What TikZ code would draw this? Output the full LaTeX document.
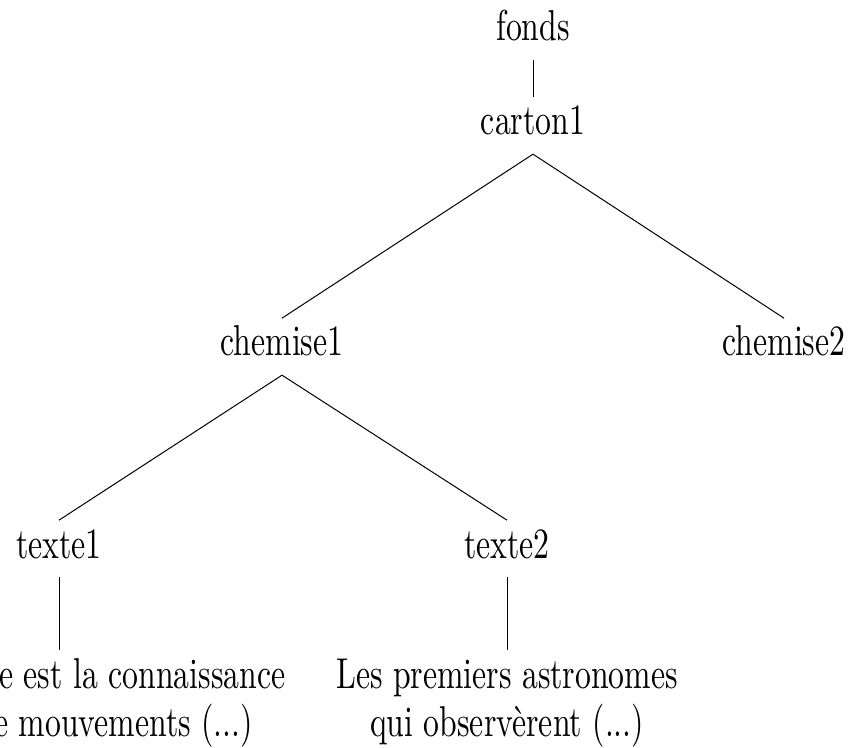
\documentclass[tikz,border=0pt]{standalone}
\usepackage{graphicx}

\newcommand{\tallbox}[1]{\scalebox{2.38}[3.24]{#1}}

\tikzset{every picture/.style={line width=0.75pt}}
\tikzset{
  lbl/.style={anchor=base, inner sep=0pt, font=\fontsize{10}{11.34}\selectfont, text height=28pt},
  level/.style={lbl, text depth=14pt},
  leaf/.style={lbl}
}

\begin{document}
\begin{tikzpicture}[x=0.75pt,y=0.75pt,yscale=-1,xscale=1]
\useasboundingbox (0,0) rectangle (850,748);
\clip (0,0) rectangle (850,748);

% Text Node
\node [level] (fonds) at (533,41) {\tallbox{fonds}};
% Text Node
\node [level] (carton1) at (533,135) {\tallbox{carton1}};
% Text Node
\node [level] (chemise1) at (282,356) {\tallbox{chemise1}};
% Text Node
\node [level] (chemise2) at (784,356) {\tallbox{chemise2}};
% Text Node
\node [level] (texte1) at (59,558) {\tallbox{texte1}};
% Text Node
\node [level] (texte2) at (507,558) {\tallbox{texte2}};
% Text Node
\node [leaf] (doc1) at (59,688) {\tallbox{\begin{tabular}[t]{@{}c@{}}L'astronomie est la connaissance\\des lois de mouvements (...)\end{tabular}}};
% Text Node
\node [leaf] (doc2) at (507,688) {\tallbox{\begin{tabular}[t]{@{}c@{}}Les premiers astronomes\\qui observèrent (...)\end{tabular}}};

%Straight Lines
\draw (fonds.south) -- (carton1.north);
\draw (carton1.south) -- (chemise1.north);
\draw (carton1.south) -- (chemise2.north);
\draw (chemise1.south) -- (texte1.north);
\draw (chemise1.south) -- (texte2.north);
\draw (texte1.south) -- (doc1.north);
\draw (texte2.south) -- (doc2.north);

\end{tikzpicture}
\end{document}
